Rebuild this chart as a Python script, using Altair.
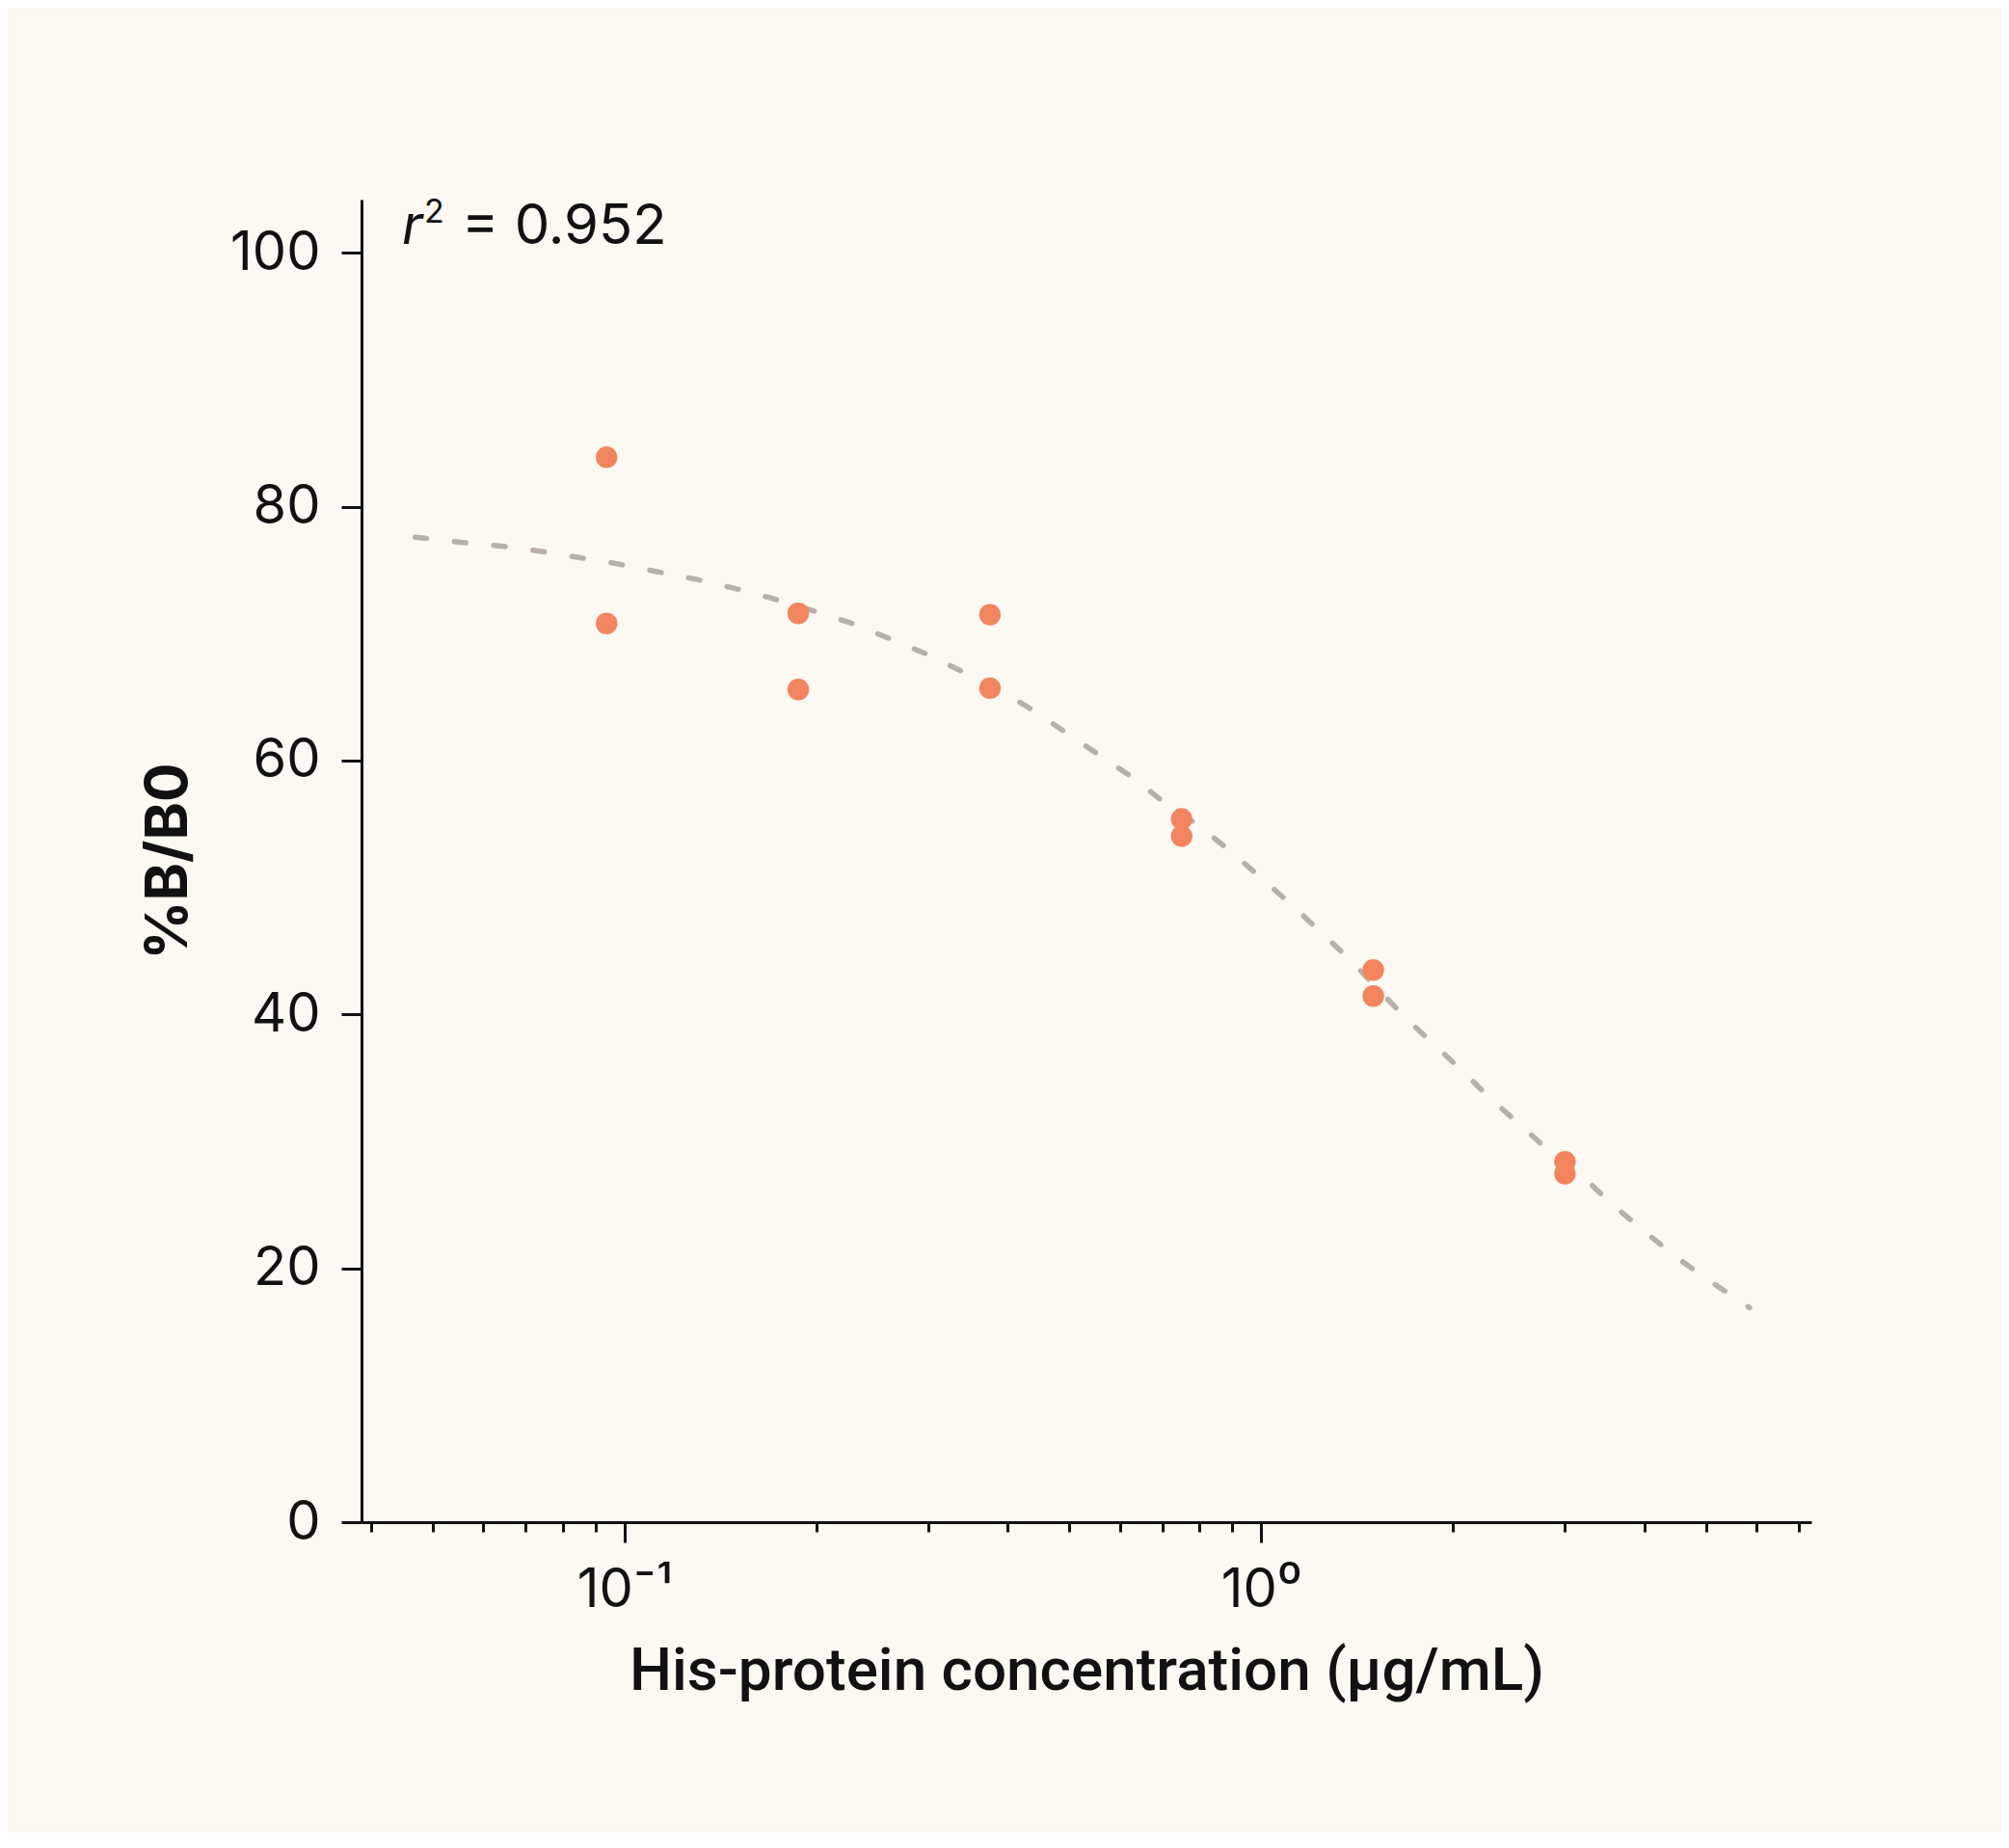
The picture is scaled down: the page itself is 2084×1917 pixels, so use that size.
import altair as alt
import pandas as pd

# measured points (two replicates per concentration)
conc = [0.09375, 0.09375, 0.1875, 0.1875, 0.375, 0.375, 0.75, 0.75, 1.5, 1.5, 3.0, 3.0]
pct_b_b0 = [83.9, 70.8, 71.6, 65.6, 71.5, 65.7, 55.4, 54.05, 43.5, 41.45, 28.4, 27.45]

# fitted curve
curve_x = [0.0469, 0.0553, 0.064, 0.0736, 0.0847, 0.0975, 0.112, 0.129, 0.148, 0.170,
           0.198, 0.228, 0.261, 0.298, 0.340, 0.390, 0.440, 0.562, 0.631, 0.708,
           0.792, 0.903, 1.008, 1.124, 1.252, 1.386, 1.680, 1.871, 2.076, 2.299,
           2.566, 2.852, 3.188, 3.565, 3.98, 4.48, 5.03, 5.65, 5.85]
curve_y = [77.6, 77.2, 76.9, 76.5, 76.0, 75.5, 74.9, 74.3, 73.6, 72.8,
           71.8, 70.8, 69.6, 68.4, 67.0, 65.5, 63.9, 60.3, 58.6, 56.6,
           55.0, 52.7, 50.6, 48.5, 46.3, 44.2, 39.8, 37.6, 35.5, 33.3,
           31.2, 29.1, 27.3, 25.0, 23.0, 20.9, 19.1, 17.4, 16.9]

x_ticks = [0.04, 0.05, 0.06, 0.07, 0.08, 0.09, 0.1, 0.2, 0.3, 0.4, 0.5, 0.6, 0.7, 0.8, 0.9,
           1.0, 2.0, 3.0, 4.0, 5.0, 6.0, 7.0]
y_ticks = [0, 20, 40, 60, 80, 100]
r2_text = "0.952"

pts = pd.DataFrame({"conc": conc, "pct": pct_b_b0})
fit = pd.DataFrame({"conc": curve_x, "pct": curve_y})

BLACK = "#111111"
FONT = "Inter"

xscale = alt.Scale(type="log", domain=[0.03864, 7.314], nice=False, zero=False)
yscale = alt.Scale(domain=[0, 104.2], nice=False, zero=False)

xaxis = alt.Axis(
    values=x_ticks,
    labelExpr="datum.value == 0.1 ? '10⁻¹' : (datum.value == 1 ? '10⁰' : '')",
    tickSize={"condition": {"test": "datum.value == 0.1 || datum.value == 1", "value": 21}, "value": 10},
    labelOverlap=False,
    labelFlush=False,
    labelPadding=22,
    title="His-protein concentration (µg/mL)",
    titleFont="Roboto",
    titleFontWeight=500,
    titleFontSize=62,
    titleBaseline="alphabetic",
    titleY=173,
    grid=False,
)
yaxis = alt.Axis(
    values=y_ticks,
    tickSize=21,
    labelPadding=22,
    title="%B/B0",
    titleFont=FONT,
    titleFontWeight="bold",
    titleFontSize=60,
    titleBaseline="alphabetic",
    titleX=-182,
    titleAngle=-90,
    grid=False,
)

line = alt.Chart(fit).mark_line(
    color="#B9B1A9", strokeWidth=5.5, strokeDash=[12, 29], strokeCap="round"
).encode(
    x=alt.X("conc:Q", scale=xscale, axis=xaxis),
    y=alt.Y("pct:Q", scale=yscale, axis=yaxis),
)

dots = alt.Chart(pts).mark_circle(color="#F2845F", opacity=1, size=500).encode(
    x=alt.X("conc:Q", scale=xscale),
    y=alt.Y("pct:Q", scale=yscale),
)

ann_df = pd.DataFrame({"r": ["r"], "two": ["2"], "rest": ["= " + r2_text]})
r_txt = alt.Chart(ann_df).mark_text(
    font=FONT, fontSize=57, fontStyle="italic", align="left", baseline="alphabetic", color=BLACK
).encode(text="r:N", x=alt.value(42), y=alt.value(46))
two_txt = alt.Chart(ann_df).mark_text(
    font=FONT, fontSize=34, align="left", baseline="alphabetic", color=BLACK
).encode(text="two:N", x=alt.value(65), y=alt.value(24))
rest_txt = alt.Chart(ann_df).mark_text(
    font=FONT, fontSize=58, align="left", baseline="alphabetic", color=BLACK
).encode(text="rest:N", x=alt.value(104), y=alt.value(46))

chart = alt.layer(line, dots, r_txt, two_txt, rest_txt).properties(
    width=1504,
    height=1372,
    padding={"left": 367, "top": 199, "right": 197, "bottom": 322},
    autosize=alt.AutoSizeParams(type="none"),
    background="#FCF8F2",
).configure_view(stroke=None).configure_axis(
    domainColor=BLACK,
    domainWidth=3,
    tickColor=BLACK,
    tickWidth=3,
    labelColor=BLACK,
    titleColor=BLACK,
    labelFont=FONT,
    labelFontSize=56,
)

chart.save("out.html", embed_options={"renderer": "svg", "actions": False})
